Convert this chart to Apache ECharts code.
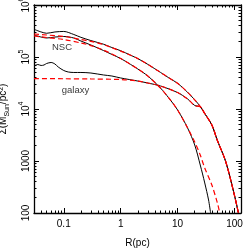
<!DOCTYPE html>
<html><head><meta charset="utf-8">
<script src="https://cdn.jsdelivr.net/npm/echarts@6/dist/echarts.min.js"></script>
<style>html,body{margin:0;padding:0;background:#fff}#c{width:244px;height:249px}</style>
</head><body><div id="c"></div>
<script>
// ---- data ----
const nscUpperR = [0.03,0.04,0.05,0.07,0.1,0.15,0.2,0.3,0.5,0.7,1,1.5,2,3,5,7,10,15,20,25,30,40,50,70,100,117];
const nscUpperS = [3.41e5,3.03e5,2.86e5,3.03e5,3.1e5,2.71e5,2.39e5,2.07e5,1.76e5,1.52e5,1.32e5,1.08e5,9.31e4,7.21e4,5.06e4,3.98e4,3.12e4,2.09e4,1.5e4,1.12e4,8180,4920,2480,977,217,100];
const nscUpperModelR = [0.03,0.05,0.1,0.2,0.3,0.5,0.7,1,1.5,2,3,5,7,10,15,20,25,30,40,50,70,100,117];
const nscUpperModelS = [2.77e5,2.65e5,2.48e5,2.17e5,1.99e5,1.74e5,1.51e5,1.30e5,1.08e5,9.31e4,7.21e4,5.06e4,3.98e4,3.12e4,2.09e4,1.5e4,1.12e4,8180,4920,2480,977,217,100];
const nscLowerR = [0.03,0.04,0.05,0.07,0.1,0.15,0.2,0.3,0.5,0.7,1,1.5,2,3,5,7,10,15,20,25,30,35,38];
const nscLowerS = [2.65e5,2.42e5,2.32e5,2.42e5,2.48e5,2.32e5,2.03e5,1.70e5,1.33e5,1.12e5,9.35e4,7.18e4,5.88e4,4.31e4,2.53e4,1.63e4,9570,4310,2030,838,378,178,100];
const nscLowerModelR = [0.03,0.05,0.1,0.2,0.3,0.5,1,2,3,5,7,10,15,20,25,30,40,50,55];
const nscLowerModelS = [2.54e5,2.37e5,2.17e5,1.86e5,1.66e5,1.36e5,9.35e4,5.88e4,4.31e4,2.53e4,1.63e4,9570,4310,2320,1300,733,345,156,100];
const galaxyR = [0.03,0.035,0.04,0.045,0.05,0.06,0.07,0.08,0.1,0.12,0.15,0.2,0.3,0.5,0.7,1,2,3,5,10,15,20,25,30,40,50,70,100,117];
const galaxyS = [6.71e4,7.18e4,6.87e4,7.02e4,7.50e4,7.84e4,7.33e4,6.42e4,5.50e4,5.15e4,5.04e4,5.04e4,4.92e4,4.51e4,4.31e4,3.95e4,3.45e4,3.16e4,2.77e4,2.07e4,1.56e4,1.17e4,1.1e4,8180,4920,2480,977,217,100];
const galaxyModelR = [0.03,0.1,0.3,1,2,3,5,10,15,20,25,30,40,50,70,100,117];
const galaxyModelS = [3.83e4,3.82e4,3.78e4,3.69e4,3.45e4,3.16e4,2.77e4,2.07e4,1.56e4,1.17e4,1.1e4,8180,4920,2480,977,217,100];
const annotText = ['NSC','galaxy'];
const annotR = [0.093,0.161];
const annotS = [1.56e5,2.32e4];
const xMajor = [0.1,1,10,100];
const xMinor = [0.04,0.05,0.06,0.07,0.08,0.09,0.2,0.3,0.4,0.5,0.6,0.7,0.8,0.9,2,3,4,5,6,7,8,9,20,30,40,50,60,70,80,90];
const yMajor = [100,1000,1e4,1e5,1e6];
const yMinor = [200,300,400,500,600,700,800,900,2000,3000,4000,5000,6000,7000,8000,9000,2e4,3e4,4e4,5e4,6e4,7e4,8e4,9e4,2e5,3e5,4e5,5e5,6e5,7e5,8e5,9e5];
const XMIN = 0.03, XMAX = 130, YMIN = 100, YMAX = 1e6;

const FONT = 'Liberation Sans, Arial, Helvetica, sans-serif';
const zip = (a,b)=>a.map((v,i)=>[v,b[i]]);

function xAx(pos, ticks, len, withLine, withLabels){
  return {
    type:'log', logBase:10, min:XMIN, max:XMAX, position:pos,
    axisLine:{show:withLine, lineStyle:{color:'#000', width:1.3}},
    axisTick:{show:true, inside:true, length:len, customValues:ticks, lineStyle:{color:'#000', width:1}},
    axisLabel: withLabels ? {show:true, customValues:xMajor, margin:5, color:'#000', fontSize:10, lineHeight:12, fontFamily:FONT,
      formatter:(v)=>{const e=Math.round(Math.log10(v)); return e<0 ? Math.pow(10,e).toFixed(-e) : String(Math.pow(10,e));}} : {show:false},
    splitLine:{show:false}, minorTick:{show:false},
    name: withLabels ? 'R(pc)' : '', nameLocation:'middle', nameGap:24,
    nameTextStyle:{fontSize:10, lineHeight:12, color:'#000', fontFamily:FONT}
  };
}
function yAx(pos, ticks, len, withLine, withLabels){
  return {
    type:'log', logBase:10, min:YMIN, max:YMAX, position:pos,
    axisLine:{show:withLine, lineStyle:{color:'#000', width:1.3}},
    axisTick:{show:true, inside:true, length:len, customValues:ticks, lineStyle:{color:'#000', width:1}},
    axisLabel: withLabels ? {show:true, customValues:yMajor, rotate:90, margin:0, color:'#000',
      formatter:(v)=>{const e=Math.round(Math.log10(v)); return e<=3 ? '{b|'+Math.pow(10,e)+'}' : '{b|10}{s|'+e+'}';},
      rich:{b:{fontSize:10, lineHeight:16, fontFamily:FONT, color:'#000'}, s:{fontSize:7, lineHeight:7, verticalAlign:'top', fontFamily:FONT, color:'#000'}}} : {show:false},
    splitLine:{show:false}, minorTick:{show:false},
    name: withLabels ? '{n|Σ(M}{d|Sun}{n|/pc}{u|2}{n|)}' : '', nameLocation:'middle', nameGap:17, nameRotate:90,
    nameTextStyle:{rich:{
      n:{fontSize:10, lineHeight:13, fontFamily:FONT, color:'#000'},
      d:{fontSize:7, lineHeight:7, verticalAlign:'bottom', fontFamily:FONT, color:'#000'},
      u:{fontSize:7, lineHeight:7, verticalAlign:'top', fontFamily:FONT, color:'#000'}}}
  };
}

function lineS(r, s, color, dashed){
  return {type:'line', xAxisIndex:0, yAxisIndex:0, data:zip(r,s), showSymbol:false, symbol:'none', smooth:0.3,
    lineStyle:{color:color, width: dashed?1.2:1, type: dashed?[5,3]:'solid'}, z: dashed?3:2, silent:true, animation:false};
}

const chart = echarts.init(document.getElementById('c'), null, {renderer:'canvas'});
chart.setOption({
  animation:false,
  backgroundColor:'#fff',
  grid:{left:34, right:3, top:5, bottom:36, outerBoundsMode:'none', containLabel:false},
  xAxis:[xAx('bottom', xMajor, 5, true, true), xAx('bottom', xMinor, 2.5, false, false), xAx('top', xMajor, 5, true, false), xAx('top', xMinor, 2.5, false, false)],
  yAxis:[yAx('left', yMajor, 5, true, true), yAx('left', yMinor, 2.5, false, false), yAx('right', yMajor, 5, true, false), yAx('right', yMinor, 2.5, false, false)],
  series:[
    lineS(nscUpperR, nscUpperS, '#000', false),
    lineS(nscLowerR, nscLowerS, '#000', false),
    lineS(galaxyR, galaxyS, '#000', false),
    lineS(nscUpperModelR, nscUpperModelS, '#ff0000', true),
    lineS(nscLowerModelR, nscLowerModelS, '#ff0000', true),
    lineS(galaxyModelR, galaxyModelS, '#ff0000', true),
    {type:'scatter', xAxisIndex:0, yAxisIndex:0, symbolSize:0, silent:true, z:5,
     data: annotText.map((t,i)=>({name:t, value:[annotR[i], annotS[i]]})),
     label:{show:true, position:'inside', formatter:(p)=>p.name, color:'#000', fontSize:9.5, fontFamily:FONT}}
  ]
});
</script></body></html>
